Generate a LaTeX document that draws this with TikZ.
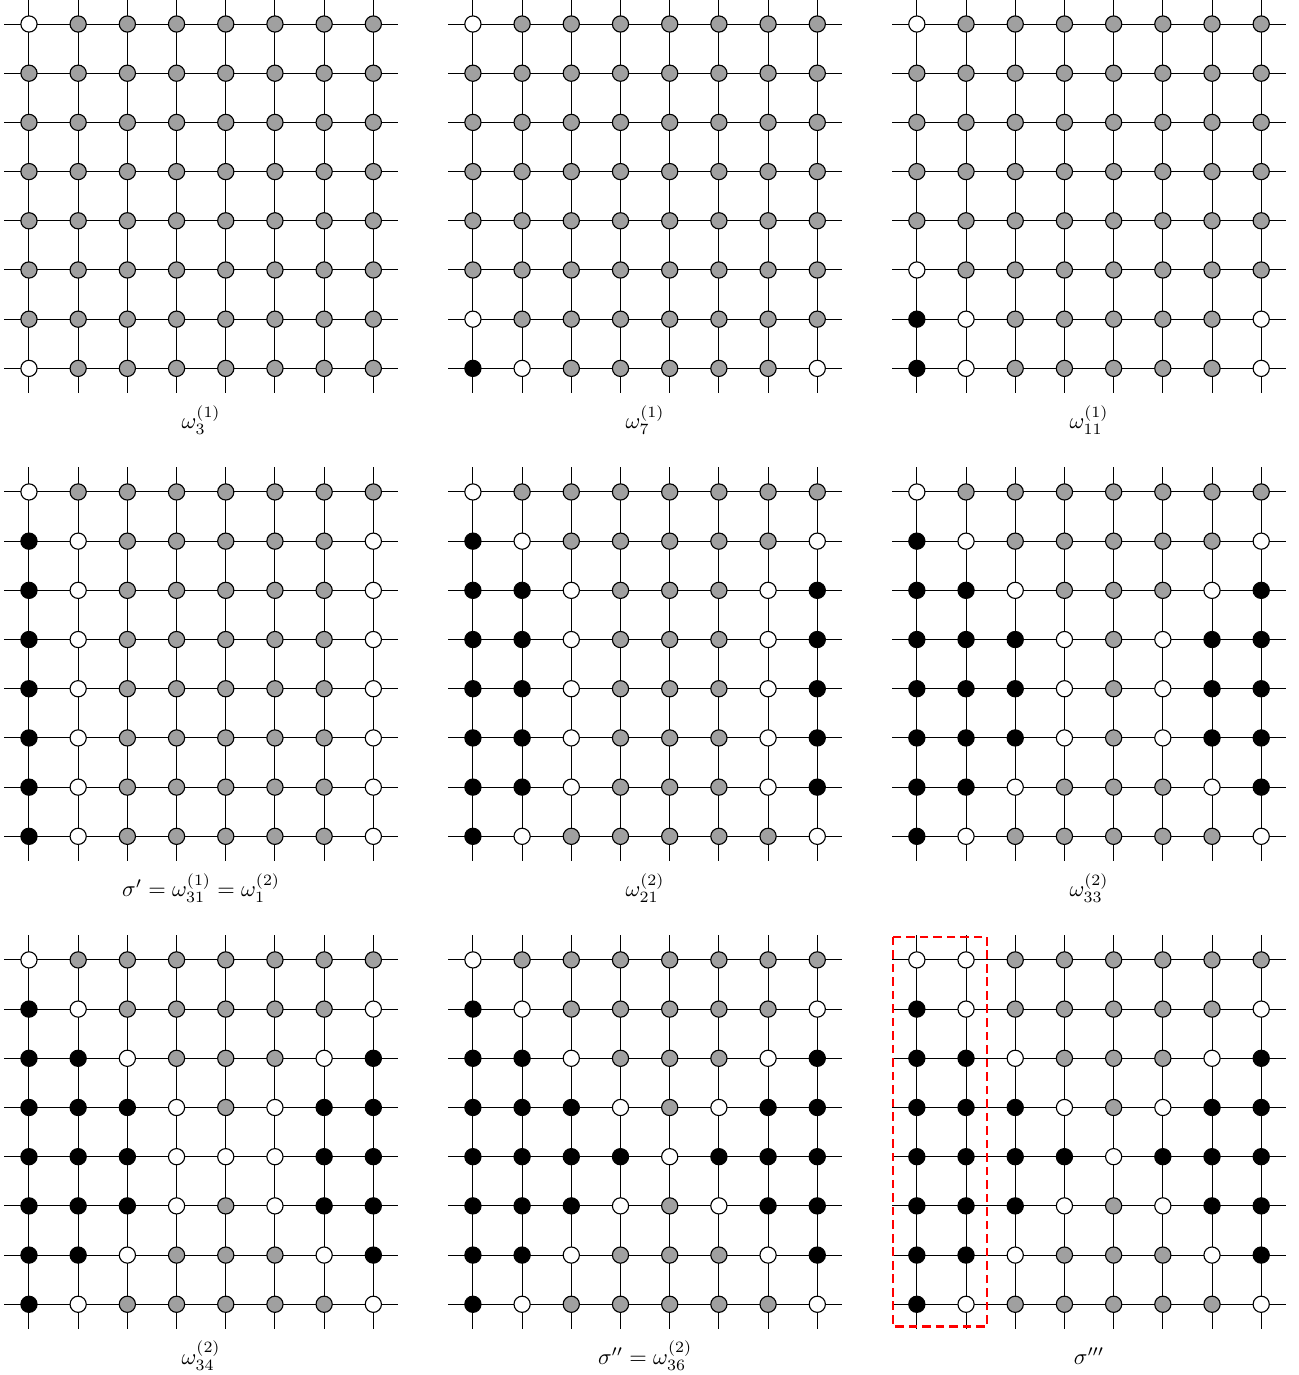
\documentclass[tikz,border=0pt]{standalone}
\usepackage{amsmath,amssymb}
\usepackage{xcolor}
\usepackage{tikz}
\usetikzlibrary{calc}
\definecolor{sitegray}{HTML}{A0A0A0}
\tikzset{
  site/.style={circle,draw=black,line width=0.5pt,inner sep=0pt,minimum size=7.2pt},
  site w/.style={fill=white},
  site g/.style={fill=sitegray},
  site b/.style={fill=black},
  bond/.style={draw=black,line width=0.45pt},
  caption/.style={inner sep=1pt},
  window/.style={draw=red,line width=1pt,dash pattern=on 3.8pt off 2.2pt}
}
% one 8x8 lattice: #1 shift, #2 name, #3 label, #4 site rows from the top
\newcommand{\latpanel}[4]{%
  \begin{scope}[shift={#1}]
    \foreach \k in {0,...,7} {
      \draw[bond] (-0.5,-\k) -- (7.5,-\k);
      \draw[bond] (\k,0.5) -- (\k,-7.5);
    }
    \foreach \rowlist [count=\j] in {#4} {
      \foreach \s [count=\i] in \rowlist
        \node[site,site \s] (#2-\i-\j) at (\i-1,1-\j) {};
    }
    \node[caption] (#2-lab) at (3.5,-8.05) {#3};
  \end{scope}}

\begin{document}
\begin{tikzpicture}[x=0.768cm,y=0.768cm]
\useasboundingbox (0,0) rectangle (26.40,-27.95);
% first row
\latpanel{(0.589,-0.488)}{a}{$\omega_3^{(1)}$}{
  {w,g,g,g,g,g,g,g},{g,g,g,g,g,g,g,g},{g,g,g,g,g,g,g,g},{g,g,g,g,g,g,g,g},
  {g,g,g,g,g,g,g,g},{g,g,g,g,g,g,g,g},{g,g,g,g,g,g,g,g},{w,g,g,g,g,g,g,g}}
\latpanel{(9.613,-0.488)}{b}{$\omega_7^{(1)}$}{
  {w,g,g,g,g,g,g,g},{g,g,g,g,g,g,g,g},{g,g,g,g,g,g,g,g},{g,g,g,g,g,g,g,g},
  {g,g,g,g,g,g,g,g},{g,g,g,g,g,g,g,g},{w,g,g,g,g,g,g,g},{b,w,g,g,g,g,g,w}}
\latpanel{(18.637,-0.488)}{c}{$\omega_{11}^{(1)}$}{
  {w,g,g,g,g,g,g,g},{g,g,g,g,g,g,g,g},{g,g,g,g,g,g,g,g},{g,g,g,g,g,g,g,g},
  {g,g,g,g,g,g,g,g},{w,g,g,g,g,g,g,g},{b,w,g,g,g,g,g,w},{b,w,g,g,g,g,g,w}}
% second row
\latpanel{(0.589,-10.000)}{d}{$\sigma' = \omega_{31}^{(1)} = \omega_1^{(2)}$}{
  {w,g,g,g,g,g,g,g},{b,w,g,g,g,g,g,w},{b,w,g,g,g,g,g,w},{b,w,g,g,g,g,g,w},
  {b,w,g,g,g,g,g,w},{b,w,g,g,g,g,g,w},{b,w,g,g,g,g,g,w},{b,w,g,g,g,g,g,w}}
\latpanel{(9.613,-10.000)}{e}{$\omega_{21}^{(2)}$}{
  {w,g,g,g,g,g,g,g},{b,w,g,g,g,g,g,w},{b,b,w,g,g,g,w,b},{b,b,w,g,g,g,w,b},
  {b,b,w,g,g,g,w,b},{b,b,w,g,g,g,w,b},{b,b,w,g,g,g,w,b},{b,w,g,g,g,g,g,w}}
\latpanel{(18.637,-10.000)}{f}{$\omega_{33}^{(2)}$}{
  {w,g,g,g,g,g,g,g},{b,w,g,g,g,g,g,w},{b,b,w,g,g,g,w,b},{b,b,b,w,g,w,b,b},
  {b,b,b,w,g,w,b,b},{b,b,b,w,g,w,b,b},{b,b,w,g,g,g,w,b},{b,w,g,g,g,g,g,w}}
% third row
\latpanel{(0.589,-19.512)}{g}{$\omega_{34}^{(2)}$}{
  {w,g,g,g,g,g,g,g},{b,w,g,g,g,g,g,w},{b,b,w,g,g,g,w,b},{b,b,b,w,g,w,b,b},
  {b,b,b,w,w,w,b,b},{b,b,b,w,g,w,b,b},{b,b,w,g,g,g,w,b},{b,w,g,g,g,g,g,w}}
\latpanel{(9.613,-19.512)}{h}{$\sigma'' = \omega_{36}^{(2)}$}{
  {w,g,g,g,g,g,g,g},{b,w,g,g,g,g,g,w},{b,b,w,g,g,g,w,b},{b,b,b,w,g,w,b,b},
  {b,b,b,b,w,b,b,b},{b,b,b,w,g,w,b,b},{b,b,w,g,g,g,w,b},{b,w,g,g,g,g,g,w}}
\latpanel{(18.637,-19.512)}{i}{$\sigma'''$}{
  {w,w,g,g,g,g,g,g},{b,w,g,g,g,g,g,w},{b,b,w,g,g,g,w,b},{b,b,b,w,g,w,b,b},
  {b,b,b,b,w,b,b,b},{b,b,b,w,g,w,b,b},{b,b,w,g,g,g,w,b},{b,w,g,g,g,g,g,w}}
% dashed window round the first two columns
\draw[window] ($(i-1-1)+(-0.48,0.47)$) rectangle ($(i-2-8)+(0.43,-0.45)$);
\end{tikzpicture}
\end{document}
